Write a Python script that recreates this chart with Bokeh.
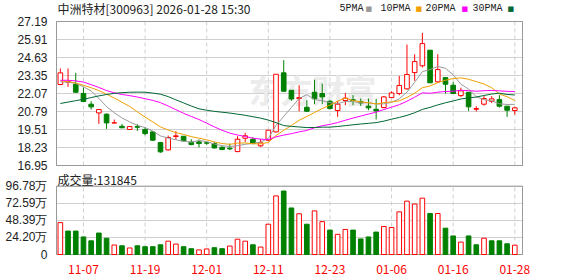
from bokeh.plotting import figure
from bokeh.models import ColumnDataSource, FixedTicker, Label, Range1d
from bokeh.layouts import column
from bokeh.embed import file_html
from bokeh.resources import INLINE

# ---------------- data ----------------
dates = ["11-04", "11-05", "11-06", "11-07", "11-10", "11-11", "11-12", "11-13", "11-14", "11-17",
         "11-18", "11-19", "11-20", "11-21", "11-24", "11-25", "11-26", "11-27", "11-28", "12-01",
         "12-02", "12-03", "12-04", "12-05", "12-08", "12-09", "12-10", "12-11", "12-12", "12-15",
         "12-16", "12-17", "12-18", "12-19", "12-22", "12-23", "12-24", "12-25", "12-26", "12-29",
         "12-30", "12-31", "01-05", "01-06", "01-07", "01-08", "01-09", "01-12", "01-13", "01-14",
         "01-15", "01-16", "01-19", "01-20", "01-21", "01-22", "01-23", "01-26", "01-27", "01-28"]

opens = [22.71, 22.88, 22.71, 22.07, 21.31, 20.69, 20.60, 19.97, 19.74, 19.51,
         19.72, 19.51, 19.34, 18.58, 18.06, 19.01, 19.03, 18.61, 18.63, 18.56,
         18.51, 18.25, 18.18, 17.94, 18.89, 18.82, 18.35, 18.75, 19.34, 23.54,
         22.30, 21.71, 21.09, 22.16, 22.07, 21.52, 20.86, 21.57, 21.62, 21.50,
         21.17, 20.95, 21.07, 21.78, 22.07, 22.40, 23.56, 24.04, 25.15, 22.90,
         23.20, 22.66, 21.92, 22.16, 20.95, 21.31, 21.52, 21.64, 21.17, 20.86]
highs = [23.85, 23.85, 23.54, 22.49, 21.52, 20.93, 20.65, 20.22, 19.91, 19.72,
         19.89, 19.63, 19.39, 18.63, 19.08, 19.39, 19.03, 18.82, 18.80, 18.62,
         18.63, 18.32, 18.51, 19.03, 19.27, 18.96, 18.84, 19.46, 23.44, 24.44,
         22.30, 22.66, 21.59, 23.06, 22.78, 21.59, 21.52, 22.11, 21.95, 21.71,
         21.71, 21.69, 21.88, 22.23, 23.32, 25.55, 24.86, 26.38, 25.15, 24.86,
         23.20, 22.90, 22.49, 22.16, 21.17, 21.88, 21.88, 21.95, 21.17, 21.12]
lows = [22.66, 22.54, 22.11, 21.47, 20.93, 19.91, 19.55, 19.97, 19.62, 19.51,
        19.41, 19.10, 18.70, 17.85, 18.01, 18.80, 18.68, 18.39, 18.23, 18.42,
        18.16, 18.04, 18.04, 17.90, 18.63, 18.46, 18.27, 18.68, 19.30, 22.23,
        21.55, 20.81, 20.76, 21.31, 21.31, 20.93, 20.41, 21.24, 21.24, 21.19,
        20.88, 20.22, 21.02, 21.74, 21.95, 22.35, 22.97, 23.92, 22.83, 22.85,
        22.07, 22.07, 21.83, 20.83, 20.79, 21.21, 21.40, 21.07, 20.41, 20.57]
closes = [23.54, 22.92, 22.16, 21.50, 21.12, 20.93, 19.98, 19.99, 19.63, 19.72,
          19.67, 19.22, 18.75, 17.92, 18.94, 19.06, 18.70, 18.44, 18.51, 18.54,
          18.20, 18.09, 18.13, 18.82, 19.06, 18.51, 18.56, 19.46, 23.44, 22.23,
          21.68, 21.78, 20.81, 21.69, 21.83, 21.00, 21.31, 21.74, 21.57, 21.40,
          21.05, 20.83, 21.83, 22.11, 22.64, 23.42, 24.34, 25.62, 22.83, 23.77,
          22.73, 22.07, 22.26, 21.12, 21.00, 21.71, 21.69, 21.17, 20.88, 21.05]
# volume in 万 (10k lots)
volumes = [45.2, 33.2, 33.2, 24.9, 19.4, 30.4, 23.1, 13.4, 12.4, 9.3,
           12.4, 11.1, 11.1, 13.8, 18.9, 14.8, 11.1, 8.3, 6.5, 7.9,
           9.7, 8.3, 12.0, 21.7, 18.9, 13.8, 10.6, 42.9, 83.0, 89.9,
           65.9, 57.7, 42.9, 61.8, 46.6, 34.6, 28.6, 35.5, 34.6, 22.1,
           24.9, 31.8, 39.7, 38.3, 60.4, 75.6, 71.5, 79.8, 58.1, 58.1,
           37.3, 26.3, 17.6, 26.3, 13.8, 23.1, 19.4, 19.4, 15.2, 13.1845]

# moving-average values before enough visible closes exist
ma5_early = [22.90, 22.88, 22.78, 22.55]
ma10_early = [22.97, 22.92, 22.82, 22.66, 22.48, 22.28, 22.02, 21.75, 21.45]
ma20_early = [23.01, 23.01, 22.97, 22.88, 22.70, 22.50, 22.28, 22.12, 22.00, 21.92,
              21.82, 21.70, 21.58, 21.42, 21.18, 20.92, 20.66, 20.44, 20.22]
ma30_early = [21.36, 21.46, 21.56, 21.66, 21.78, 21.90, 22.00, 22.08, 22.13, 22.16,
              22.17, 22.16, 22.10, 22.02, 21.85, 21.62, 21.40, 21.18, 20.98, 20.88,
              20.80, 20.74, 20.68, 20.60, 20.52, 20.42, 20.32, 20.18, 20.00]

price_ticks = [16.95, 18.23, 19.51, 20.79, 22.07, 23.35, 24.63, 25.91, 27.19]
vol_ticks = [0, 24.20, 48.39, 72.59, 96.78]
date_tick_idx = [3, 11, 19, 27, 35, 43, 51, 59]

title_text = "中洲特材[300963] 2026-01-28 15:30"
ma_names = ["5PMA", "10PMA", "20PMA", "30PMA"]
ma_colors = ["#999999", "#f0a000", "#ff00ff", "#006633"]

RED = "#ff0000"
GREEN = "#008000"
GRID = "#d0d0d0"
BORDER = "#999999"
TXT = "#222222"


def moving_avg(vals, n, early):
    out = list(early)
    for i in range(n - 1, len(vals)):
        out.append(sum(vals[i - n + 1:i + 1]) / n)
    return out


ma5 = moving_avg(closes, 5, ma5_early)
ma10 = moving_avg(closes, 10, ma10_early)
ma20 = moving_avg(closes, 20, ma20_early)
ma30 = moving_avg(closes, 30, ma30_early)

n = len(closes)
xs = list(range(n))
up = [c >= o for o, c in zip(opens, closes)]
cand_line = [RED if u else GREEN for u in up]
cand_fill = ["white" if u else GREEN for u in up]
vol_up = [closes[0] >= opens[0]] + [closes[i] >= closes[i - 1] for i in range(1, n)]
vol_line = [RED if u else GREEN for u in vol_up]
vol_fill = ["white" if u else GREEN for u in vol_up]

src = ColumnDataSource(dict(
    x=xs, high=highs, low=lows,
    top=[max(o, c) for o, c in zip(opens, closes)],
    bottom=[min(o, c) for o, c in zip(opens, closes)],
    lc=cand_line, fc=cand_fill,
    vol=volumes, vlc=vol_line, vfc=vol_fill,
    ma5=ma5, ma10=ma10, ma20=ma20, ma30=ma30,
))

# ---------------- layout geometry (pixels) ----------------
W = 578
FRAME_L, FRAME_R = 55, 55          # frame is 1px wider than the drawn border on each side
BOX_W = 466                        # drawn border width in px
X0, X1 = -0.5, 60.0                # data extent of the drawn border
ppx = BOX_W / (X1 - X0)
XR = (X0 - 1 / ppx, X1 + 1 / ppx)

H1 = 172                           # price panel canvas height
P_TOP, P_BOX = 21, 144             # border top offset and height inside panel
pspan = price_ticks[-1] - price_ticks[0]
p_upp = pspan / P_BOX
P_YR = (price_ticks[0] - (H1 - P_TOP - P_BOX) * p_upp, price_ticks[-1] + P_TOP * p_upp)

H2 = 104                           # volume panel canvas height
V_TOP, V_BOX, V_BOT = 14, 70, 19   # border top, border height, bottom margin (axis)
v_upp = vol_ticks[-1] / V_BOX
V_YR = (-1 * v_upp, vol_ticks[-1] + V_TOP * v_upp)


def style_axis(ax, color=TXT, font="Liberation Sans", standoff=2):
    ax.axis_line_color = None
    ax.major_tick_line_color = None
    ax.minor_tick_line_color = None
    ax.major_label_standoff = standoff
    ax.major_label_text_font = font
    ax.major_label_text_font_size = "12px"
    ax.major_label_text_color = color


# ---------------- price panel ----------------
p1 = figure(width=W, height=H1, output_backend="svg", toolbar_location=None,
            x_range=Range1d(*XR), y_range=Range1d(*P_YR),
            min_border_left=FRAME_L, min_border_right=FRAME_R, min_border_top=0, min_border_bottom=0)
p1.outline_line_color = None
p1.background_fill_color = "white"
p1.border_fill_color = "white"
p1.xaxis.visible = False
p1.xgrid.visible = False
p1.ygrid.ticker = FixedTicker(ticks=price_ticks)
p1.ygrid.grid_line_color = GRID
yax = p1.yaxis[0]
yax.ticker = FixedTicker(ticks=price_ticks)
yax.major_label_overrides = {t: f"{t:.2f}" for t in price_ticks}
style_axis(yax)

# watermark
p1.add_layout(Label(x=257, y=172 - 88, x_units="screen", y_units="screen", text="东方财富",
                    text_font="Noto Sans CJK SC", text_font_size="32px", text_font_style="bold",
                    text_color="#ececec", text_align="center", text_baseline="middle",
                    level="underlay"))

# vertical dashed date lines + border
p1.segment(x0=date_tick_idx, y0=price_ticks[0], x1=date_tick_idx, y1=price_ticks[-1],
           line_color=GRID, line_dash="4 3", line_width=1)
p1.quad(left=X0, right=X1, bottom=price_ticks[0], top=price_ticks[-1],
        fill_color=None, line_color=BORDER, line_width=1)

p1.segment(x0="x", y0="low", x1="x", y1="high", color="lc", line_width=1, source=src)
p1.vbar(x="x", top="top", bottom="bottom", width=0.6, fill_color="fc", line_color="lc",
        line_width=1, source=src)
for key, col in zip(["ma5", "ma10", "ma20", "ma30"], ma_colors):
    p1.line(x="x", y=key, color=col, line_width=1, source=src)

# title + legend (screen units measured from frame bottom-left)
HDR_Y = H1 - 8
p1.add_layout(Label(x=2, y=HDR_Y, x_units="screen", y_units="screen", text=title_text,
                    text_font="Noto Sans CJK SC", text_font_size="12px", text_color=TXT,
                    text_baseline="middle"))
leg_text_x = [284, 325, 370, 417]
leg_box_x = [310, 360, 406, 452]
for name, col, tx, bx in zip(ma_names, ma_colors, leg_text_x, leg_box_x):
    p1.add_layout(Label(x=tx, y=HDR_Y, x_units="screen", y_units="screen", text=name,
                        text_font="Liberation Mono", text_font_size="10px", text_color=TXT,
                        text_baseline="middle"))
    p1.add_layout(Label(x=bx, y=HDR_Y, x_units="screen", y_units="screen", text="■",
                        text_font="DejaVu Sans", text_font_size="7px", text_color=col,
                        text_baseline="middle"))

# ---------------- volume panel ----------------
p2 = figure(width=W, height=H2, output_backend="svg", toolbar_location=None,
            x_range=p1.x_range, y_range=Range1d(*V_YR),
            min_border_left=FRAME_L, min_border_right=FRAME_R, min_border_top=0,
            min_border_bottom=V_BOT)
p2.outline_line_color = None
p2.background_fill_color = "white"
p2.border_fill_color = "white"
p2.xgrid.visible = False
p2.ygrid.ticker = FixedTicker(ticks=vol_ticks)
p2.ygrid.grid_line_color = GRID
xax = p2.xaxis[0]
xax.ticker = FixedTicker(ticks=date_tick_idx)
xax.major_label_overrides = {i: dates[i] for i in date_tick_idx}
style_axis(xax, color=RED, font="Noto Sans CJK SC", standoff=3)
vax = p2.yaxis[0]
vax.ticker = FixedTicker(ticks=vol_ticks)
vax.major_label_overrides = {t: ("0" if t == 0 else f"{t:.2f}万") for t in vol_ticks}
style_axis(vax)

p2.segment(x0=date_tick_idx, y0=0, x1=date_tick_idx, y1=vol_ticks[-1],
           line_color=GRID, line_dash="4 3", line_width=1)
p2.quad(left=X0, right=X1, bottom=0, top=vol_ticks[-1],
        fill_color=None, line_color=BORDER, line_width=1)
p2.vbar(x="x", top="vol", bottom=0, width=0.6, fill_color="vfc", line_color="vlc",
        line_width=1, source=src)

p2.add_layout(Label(x=2, y=(H2 - V_BOT) - 0.5, x_units="screen", y_units="screen",
                    text=f"成交量:{round(volumes[-1] * 10000)}",
                    text_font="Noto Sans CJK SC", text_font_size="12px", text_color=TXT,
                    text_baseline="top"))

layout = column(p1, p2, spacing=0)
open("out.html", "w").write(file_html(layout, INLINE))
